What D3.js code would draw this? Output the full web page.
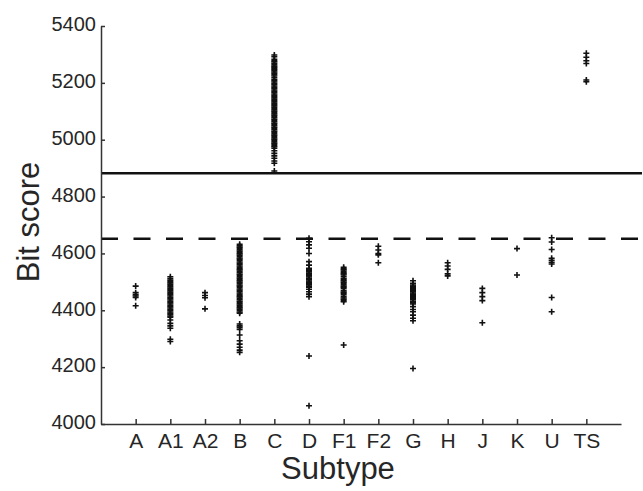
<!DOCTYPE html>
<html>
<head>
<meta charset="utf-8">
<script src="https://cdn.jsdelivr.net/npm/d3@7"></script>
<style>
  body { margin: 0; background: #fff; }
  text { font-family: "Liberation Sans", Arial, sans-serif; fill: #262626; }
</style>
</head>
<body>
<div id="chart"></div>
<script>
// DATA
var subtypes = ["A", "A1", "A2", "B", "C", "D", "F1", "F2", "G", "H", "J", "K", "U", "TS"];
var yTicks = [4000, 4200, 4400, 4600, 4800, 5000, 5200, 5400];

var scoresA  = [4485, 4462, 4455, 4450, 4445, 4416];
var scoresA1 = [4518, 4512, 4506, 4501, 4497, 4492, 4487, 4483, 4478, 4473, 4469, 4464, 4459, 4455, 4450, 4445, 4441, 4436,
                4431, 4427, 4422, 4417, 4413, 4408, 4403, 4399, 4394, 4389, 4385, 4380, 4376, 4366, 4354, 4345, 4337, 4298, 4290];
var scoresA2 = [4462, 4452, 4444, 4405];
var scoresB  = [4632, 4627, 4622, 4618, 4613, 4608, 4603, 4599, 4594, 4589, 4584, 4580, 4575, 4570, 4565, 4561, 4556, 4551,
                4546, 4542, 4537, 4532, 4527, 4523, 4518, 4513, 4508, 4504, 4499, 4494, 4489, 4485, 4480, 4475, 4470, 4466,
                4461, 4456, 4451, 4447, 4442, 4437, 4432, 4428, 4423, 4418, 4413, 4409, 4404, 4399, 4394, 4390,
                4352, 4345, 4340, 4333, 4313, 4293, 4281, 4270, 4260, 4252];
var scoresC  = [5298, 5292, 5283, 5278, 5274, 5269, 5264, 5259, 5255, 5251, 5247, 5243, 5238, 5234, 5229, 5224, 5218, 5212,
                5208, 5203, 5198, 5194, 5189, 5184, 5180, 5175, 5170, 5166, 5161, 5156, 5152, 5147, 5142, 5138, 5133, 5128,
                5124, 5119, 5114, 5110, 5105, 5100, 5096, 5091, 5086, 5082, 5077, 5072, 5068, 5063, 5058, 5054, 5049, 5044,
                5040, 5035, 5030, 5026, 5021, 5016, 5012, 5007, 5002, 4998, 4993, 4988, 4984, 4979, 4975,
                4970, 4961, 4952, 4943, 4935, 4925, 4917, 4890];
var scoresD  = [4653, 4641, 4630, 4618, 4600, 4571, 4559, 4548, 4544, 4539, 4535, 4530, 4526, 4521, 4517, 4512, 4508, 4503,
                4499, 4494, 4490, 4485, 4481, 4474, 4465, 4457, 4448, 4239, 4064];
var scoresF1 = [4551, 4546, 4542, 4537, 4532, 4528, 4524, 4518, 4512, 4508, 4504, 4499, 4495, 4490, 4485, 4481, 4477, 4469,
                4464, 4460, 4455, 4448, 4443, 4439, 4435, 4430, 4278];
var scoresF2 = [4625, 4612, 4600, 4595, 4567];
var scoresG  = [4504, 4495, 4489, 4485, 4481, 4477, 4473, 4469, 4465, 4461, 4457, 4453, 4449, 4445, 4441, 4437, 4432, 4426,
                4422, 4413, 4403, 4395, 4383, 4372, 4363, 4195];
var scoresH  = [4567, 4556, 4544, 4528, 4521];
var scoresJ  = [4477, 4462, 4448, 4434, 4356];
var scoresK  = [4617, 4524];
var scoresU  = [4655, 4640, 4614, 4583, 4576, 4569, 4563, 4445, 4395];
var scoresTS = [5304, 5290, 5278, 5268, 5210, 5204];

var cutoffSolid = 4882;
var cutoffDashed = 4652;

// build point table
var allScores = [scoresA, scoresA1, scoresA2, scoresB, scoresC, scoresD, scoresF1, scoresF2,
                 scoresG, scoresH, scoresJ, scoresK, scoresU, scoresTS];
var points = [];
subtypes.forEach(function(s, i) {
  allScores[i].forEach(function(v) { points.push({subtype: s, score: v}); });
});

// dimensions
var W = 643, H = 491;
var margin = {top: 26, right: 22, bottom: 67, left: 101};

var svg = d3.select("#chart")
  .append("svg")
    .attr("width", W)
    .attr("height", H);

var x = d3.scalePoint()
  .domain(subtypes)
  .range([margin.left, W - margin.right])
  .padding(1);

var y = d3.scaleLinear()
  .domain([4000, 5400])
  .range([H - margin.bottom, margin.top]);

// threshold lines
svg.append("line")
  .attr("x1", margin.left).attr("x2", W - 1)
  .attr("y1", y(cutoffSolid)).attr("y2", y(cutoffSolid))
  .attr("stroke", "#111")
  .attr("stroke-width", 2.5);

svg.append("line")
  .attr("x1", margin.left).attr("x2", W - 1)
  .attr("y1", y(cutoffDashed)).attr("y2", y(cutoffDashed))
  .attr("stroke", "#111")
  .attr("stroke-width", 2.5)
  .attr("stroke-dasharray", "17,15.5");

// plus markers
svg.append("g")
  .selectAll("path")
  .data(points)
  .enter()
  .append("path")
    .attr("transform", function(d) { return "translate(" + x(d.subtype) + "," + y(d.score) + ")"; })
    .attr("d", "M-3,0H3M0,-3V3")
    .attr("stroke", "#111")
    .attr("stroke-width", 1.6)
    .attr("fill", "none");

// axes
var yAxis = svg.append("g")
  .attr("transform", "translate(" + margin.left + ",0)")
  .call(d3.axisLeft(y).tickValues(yTicks).tickFormat(d3.format("d")).tickSize(-4).tickSizeOuter(0).tickPadding(5));
yAxis.selectAll("text").attr("font-size", 20).attr("dy", "0.24em");

var xAxis = svg.append("g")
  .attr("transform", "translate(0," + (H - margin.bottom) + ")")
  .call(d3.axisBottom(x).tickSize(-5).tickSizeOuter(0).tickPadding(9));
xAxis.selectAll("text").attr("font-size", 21);

svg.selectAll(".domain, .tick line")
  .attr("stroke", "#333")
  .attr("stroke-width", 1.5);

// axis titles
svg.append("text")
  .attr("x", 338)
  .attr("y", 479)
  .attr("text-anchor", "middle")
  .attr("font-size", 31)
  .text("Subtype");

svg.append("text")
  .attr("transform", "translate(39," + 222 + ") rotate(-90)")
  .attr("text-anchor", "middle")
  .attr("font-size", 31)
  .text("Bit score");
</script>
</body>
</html>
